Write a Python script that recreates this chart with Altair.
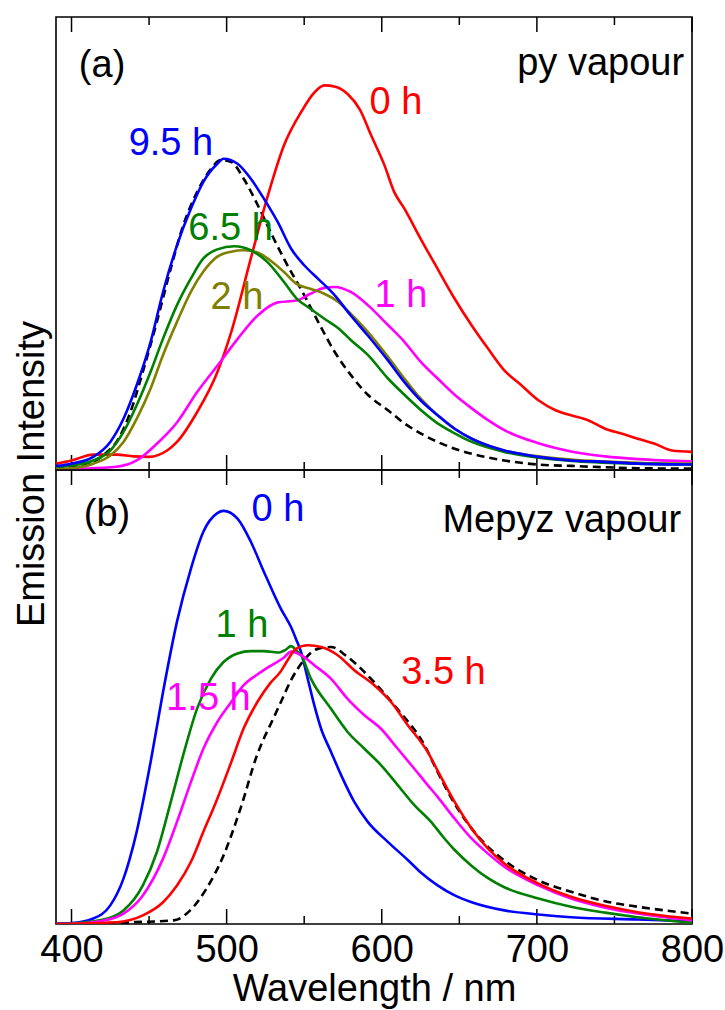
import altair as alt
import pandas as pd

FONT = "Liberation Sans"

# ---------------- Panel (a): py vapour ----------------
A_0H_WL = [390, 400, 414, 429, 440, 450, 461.6, 468, 481, 494, 503, 515.6, 526, 537, 548, 557, 563, 570, 578, 586,
           593, 601.7, 608, 614.6, 625, 636, 647, 658, 668.5, 679, 690, 701, 712, 722, 733, 744, 755, 765, 776,
           787, 800]
A_0H_I = [0.014, 0.021, 0.034, 0.034, 0.030, 0.029, 0.043, 0.062, 0.128, 0.216, 0.305, 0.467, 0.599, 0.717, 0.790,
          0.835, 0.849, 0.846, 0.830, 0.795, 0.740, 0.673, 0.614, 0.577, 0.511, 0.444, 0.378, 0.319, 0.268, 0.220,
          0.187, 0.154, 0.132, 0.121, 0.110, 0.091, 0.080, 0.069, 0.058, 0.043, 0.040]

A_1H_WL = [390, 407.6, 429, 442, 455, 468, 481, 494, 507, 520, 533, 545, 554, 563, 569.6, 580, 591, 604, 614.6,
           625, 636, 647, 658, 668.5, 679, 701, 722, 744, 765, 800]
A_1H_I = [0.002, 0.003, 0.007, 0.021, 0.058, 0.105, 0.172, 0.230, 0.289, 0.341, 0.370, 0.374, 0.389, 0.402, 0.404,
          0.393, 0.364, 0.320, 0.283, 0.239, 0.202, 0.166, 0.136, 0.110, 0.088, 0.059, 0.041, 0.030, 0.024, 0.019]

A_2H_WL = [390, 400, 414, 425, 433.5, 442, 451, 459, 468, 477, 485, 494, 503, 511, 520, 528, 537, 545, 554, 563,
           572, 580, 591, 604, 614.6, 625, 636, 647, 658, 679, 701, 722, 765, 800]
A_2H_I = [0.002, 0.004, 0.014, 0.032, 0.062, 0.113, 0.180, 0.254, 0.327, 0.394, 0.438, 0.471, 0.482, 0.485, 0.480,
          0.463, 0.437, 0.411, 0.400, 0.389, 0.371, 0.345, 0.305, 0.250, 0.202, 0.158, 0.121, 0.091, 0.069, 0.043,
          0.030, 0.023, 0.016, 0.014]

A_65H_WL = [390, 400, 414, 425, 433.5, 442, 451, 459, 468, 477, 485, 494, 505, 515.6, 526, 537, 545, 554, 563,
            572, 580, 591, 604, 614.6, 625, 636, 647, 658, 679, 701, 722, 765, 800]
A_65H_I = [0.007, 0.010, 0.021, 0.043, 0.084, 0.143, 0.217, 0.290, 0.364, 0.423, 0.467, 0.487, 0.494, 0.485, 0.460,
           0.415, 0.379, 0.356, 0.334, 0.313, 0.287, 0.254, 0.202, 0.166, 0.133, 0.103, 0.081, 0.062, 0.040, 0.027,
           0.020, 0.014, 0.012]

A_95H_WL = [390, 400, 414, 425, 433.5, 442, 451, 459, 468, 477, 485, 494, 498, 507, 515.6, 524, 533, 541.5, 550,
            559, 569.6, 580, 591, 604, 614.6, 625, 636, 647, 658, 668.5, 679, 701, 722, 744, 765, 800]
A_95H_I = [0.009, 0.014, 0.029, 0.062, 0.113, 0.187, 0.283, 0.393, 0.496, 0.577, 0.636, 0.676, 0.687, 0.676, 0.643,
           0.599, 0.547, 0.489, 0.452, 0.422, 0.386, 0.341, 0.297, 0.242, 0.194, 0.154, 0.121, 0.091, 0.069, 0.054,
           0.043, 0.029, 0.021, 0.018, 0.014, 0.012]

A_REF_WL = [390, 400, 414, 423, 429, 438, 446, 455, 464, 472, 481, 490, 496, 503, 511, 520, 530.5, 537, 550, 559,
            569.6, 580, 591, 604, 614.6, 625, 636, 647, 658, 679, 701, 722, 765, 800]
A_REF_I = [0.004, 0.007, 0.018, 0.040, 0.062, 0.128, 0.217, 0.327, 0.445, 0.540, 0.614, 0.665, 0.684, 0.680, 0.643,
           0.585, 0.510, 0.466, 0.386, 0.327, 0.261, 0.210, 0.166, 0.132, 0.103, 0.081, 0.062, 0.047, 0.036, 0.021,
           0.012, 0.009, 0.004, 0.003]

# ---------------- Panel (b): Mepyz vapour ----------------
B_0H_WL = [390, 400, 414, 425, 433.5, 442, 451, 459, 468, 477, 485, 494, 498, 507, 515.6, 524, 535, 541.5, 544.7,
           548, 552.3, 556.5, 560.9, 567.3, 573.8, 582.3, 591, 603.9, 616.8, 625, 636, 647, 658, 679, 701, 722,
           765, 800]
B_0H_I = [0.001, 0.002, 0.012, 0.041, 0.100, 0.203, 0.357, 0.511, 0.666, 0.783, 0.864, 0.905, 0.910, 0.893, 0.842,
          0.776, 0.694, 0.654, 0.628, 0.599, 0.540, 0.482, 0.430, 0.379, 0.328, 0.269, 0.225, 0.181, 0.141, 0.114,
          0.085, 0.063, 0.048, 0.030, 0.021, 0.015, 0.010, 0.006]

B_1H_WL = [390, 400, 418, 433.5, 446, 455, 464, 472, 481, 490, 498, 507, 515.6, 524, 533, 538, 541.5, 545, 548,
           554.4, 567.3, 578, 588.8, 599.5, 610.3, 621, 631.8, 640, 647, 658, 668.5, 679, 701, 722, 744, 765, 800]
B_1H_I = [0.000, 0.001, 0.008, 0.030, 0.085, 0.158, 0.269, 0.372, 0.475, 0.541, 0.577, 0.596, 0.601, 0.601, 0.598,
          0.604, 0.612, 0.602, 0.592, 0.540, 0.474, 0.423, 0.386, 0.350, 0.306, 0.262, 0.225, 0.190, 0.163, 0.128,
          0.101, 0.081, 0.056, 0.038, 0.025, 0.015, 0.003]

B_15H_WL = [390, 400, 418, 433.5, 446, 459, 468, 477, 485, 494, 503, 511, 520, 528, 537, 541.5, 548, 556.5, 567.3,
            578, 588.8, 599.5, 610.3, 621, 629.6, 636, 647, 658, 668.5, 679, 701, 722, 744, 765, 800]
B_15H_I = [0.000, 0.000, 0.006, 0.023, 0.063, 0.144, 0.225, 0.313, 0.386, 0.445, 0.489, 0.526, 0.550, 0.568, 0.587,
           0.600, 0.592, 0.570, 0.540, 0.496, 0.460, 0.430, 0.386, 0.342, 0.306, 0.280, 0.232, 0.188, 0.155, 0.126,
           0.085, 0.056, 0.036, 0.023, 0.008]

B_35H_WL = [390, 429, 446, 459, 468, 477, 485, 494, 503, 511, 520, 528, 535, 538.6, 544.7, 552.3, 560.9, 571.6,
            582.3, 595.2, 606, 616.8, 629.6, 636, 647, 658, 668.5, 679, 701, 722, 744, 765, 800]
B_35H_I = [0.000, 0.004, 0.019, 0.048, 0.085, 0.137, 0.203, 0.276, 0.357, 0.431, 0.490, 0.530, 0.557, 0.577, 0.606,
           0.614, 0.610, 0.592, 0.559, 0.526, 0.489, 0.438, 0.379, 0.338, 0.269, 0.210, 0.166, 0.133, 0.089, 0.060,
           0.040, 0.026, 0.012]

B_REF_WL = [390, 440, 465.7, 476.5, 487, 498, 508.9, 519.6, 530.4, 535, 541.2, 549.8, 558.7, 567.3, 578, 595, 610,
            627.5, 636, 647, 658, 668.5, 679, 701, 722, 744, 765, 800]
B_REF_I = [0.000, 0.004, 0.008, 0.030, 0.078, 0.151, 0.254, 0.372, 0.455, 0.489, 0.535, 0.581, 0.606, 0.610, 0.588,
           0.533, 0.474, 0.394, 0.335, 0.265, 0.210, 0.170, 0.140, 0.096, 0.071, 0.050, 0.038, 0.023]

TICK_MAJOR = [400, 500, 600, 700, 800]
TICK_MINOR = [450, 550, 650, 750]
X_LABELS = [400, 500, 600, 700, 800]

A_SERIES = ["0 h", "1 h", "2 h", "6.5 h", "9.5 h"]
A_COLORS = ["#FF0000", "#FF00FF", "#808000", "#008000", "#0000FF"]
B_SERIES = ["0 h", "1 h", "1.5 h", "3.5 h"]
B_COLORS = ["#0000FF", "#008000", "#FF00FF", "#FF0000"]

A_LABEL_TEXT = ["9.5 h", "6.5 h", "2 h", "0 h", "1 h", "(a)"]
A_LABEL_WL = [464.1, 502.5, 506.7, 609.2, 612.4, 419.7]
A_LABEL_I = [0.695, 0.508, 0.355, 0.786, 0.360, 0.868]
A_LABEL_COLOR = ["#0000FF", "#008000", "#808000", "#FF0000", "#FF00FF", "#000000"]

B_LABEL_TEXT = ["0 h", "1 h", "1.5 h", "3.5 h", "(b)"]
B_LABEL_WL = [533.1, 509.9, 488.3, 639.8, 422.9]
B_LABEL_I = [0.888, 0.632, 0.471, 0.529, 0.877]
B_LABEL_COLOR = ["#0000FF", "#008000", "#FF00FF", "#FF0000", "#000000"]

W, HA, HB = 636, 453, 454
XDOM = [390, 800]


def long(series_list, key):
    frames = []
    for name, wl, vals in series_list:
        frames.append(pd.DataFrame({"wl": wl, "I": vals, key: name}))
    return pd.concat(frames, ignore_index=True)


df_a = long([("0 h", A_0H_WL, A_0H_I), ("1 h", A_1H_WL, A_1H_I), ("2 h", A_2H_WL, A_2H_I),
             ("6.5 h", A_65H_WL, A_65H_I), ("9.5 h", A_95H_WL, A_95H_I)], "sa")
df_a_ref = pd.DataFrame({"wl": A_REF_WL, "I": A_REF_I})
df_b = long([("0 h", B_0H_WL, B_0H_I), ("1 h", B_1H_WL, B_1H_I), ("1.5 h", B_15H_WL, B_15H_I),
             ("3.5 h", B_35H_WL, B_35H_I)], "sb")
df_b_ref = pd.DataFrame({"wl": B_REF_WL, "I": B_REF_I})

major = pd.DataFrame({"wl": TICK_MAJOR})
minor = pd.DataFrame({"wl": TICK_MINOR})

xaxis_b = alt.Axis(values=X_LABELS, ticks=False, tickSize=0, domain=False, grid=False, labelFont=FONT,
                   labelFontSize=38, labelColor="black", labelPadding=7, labelFlush=False,
                   title="Wavelength / nm", titleFont=FONT, titleFontSize=38, titleFontWeight="normal",
                   titleColor="black", titlePadding=1, format="d")


def make_x(axis):
    def f():
        return alt.X("wl:Q", scale=alt.Scale(domain=XDOM, nice=False, zero=False), axis=axis)
    return f


yenc = alt.Y("I:Q", scale=alt.Scale(domain=[0, 1], nice=False, zero=False), axis=None)


def build(xf, h, df, key, ref, series, colors, ltext, lwl, lval, lcol, corner_txt, corner_wl, corner_val):
    layers = []
    for d, ln in ((major, 15), (minor, 8)):
        layers.append(alt.Chart(d).mark_rule(color="black", strokeWidth=1.5).encode(
            x=xf(), y=alt.value(0), y2=alt.value(ln)))
        layers.append(alt.Chart(d).mark_rule(color="black", strokeWidth=1.5).encode(
            x=xf(), y=alt.value(h), y2=alt.value(h - ln)))
    layers.append(alt.Chart(ref).mark_line(strokeWidth=2.6, color="black", strokeDash=[8, 5],
                                           interpolate="monotone", clip=True).encode(x=xf(), y=yenc))
    layers.append(alt.Chart(df).mark_line(strokeWidth=2.6, interpolate="monotone", clip=True).encode(
        x=xf(), y=yenc,
        color=alt.Color(f"{key}:N", scale=alt.Scale(domain=series, range=colors), legend=None),
        detail=f"{key}:N"))
    ld = pd.DataFrame({"t": ltext, "wl": lwl, "I": lval, "c": lcol})
    layers.append(alt.Chart(ld).mark_text(font=FONT, fontSize=38, align="center", baseline="alphabetic").encode(
        x=xf(), y=yenc, text="t:N", color=alt.Color("c:N", scale=None)))
    cd = pd.DataFrame({"t": [corner_txt], "wl": [corner_wl], "I": [corner_val]})
    layers.append(alt.Chart(cd).mark_text(font=FONT, fontSize=38, align="right", baseline="alphabetic",
                                          color="black").encode(x=xf(), y=yenc, text="t:N"))
    return layers


ytitle = alt.Chart(pd.DataFrame({"t": ["Emission Intensity"]})).mark_text(
    font=FONT, fontSize=38, angle=270, align="center", baseline="alphabetic", color="black").encode(
    x=alt.value(-12), y=alt.value(457), text="t:N")

panel_a = alt.layer(*build(make_x(None), HA, df_a, "sa", df_a_ref, A_SERIES, A_COLORS,
                           A_LABEL_TEXT, A_LABEL_WL, A_LABEL_I, A_LABEL_COLOR, "py vapour", 794.9, 0.872),
                    ytitle).properties(width=W, height=HA)

panel_b = alt.layer(*build(make_x(xaxis_b), HB, df_b, "sb", df_b_ref, B_SERIES, B_COLORS,
                           B_LABEL_TEXT, B_LABEL_WL, B_LABEL_I, B_LABEL_COLOR, "Mepyz vapour", 793, 0.863)
                    ).properties(width=W, height=HB)

chart = alt.vconcat(panel_a, panel_b, spacing=0, bounds="flush").resolve_scale(
    color="independent", x="independent").configure_view(
    stroke="black", strokeWidth=1.6).properties(
    padding={"left": 13, "top": 15, "right": 0, "bottom": 0}, background="white")

chart.save("out.html", embed_options={"renderer": "svg", "actions": False})
